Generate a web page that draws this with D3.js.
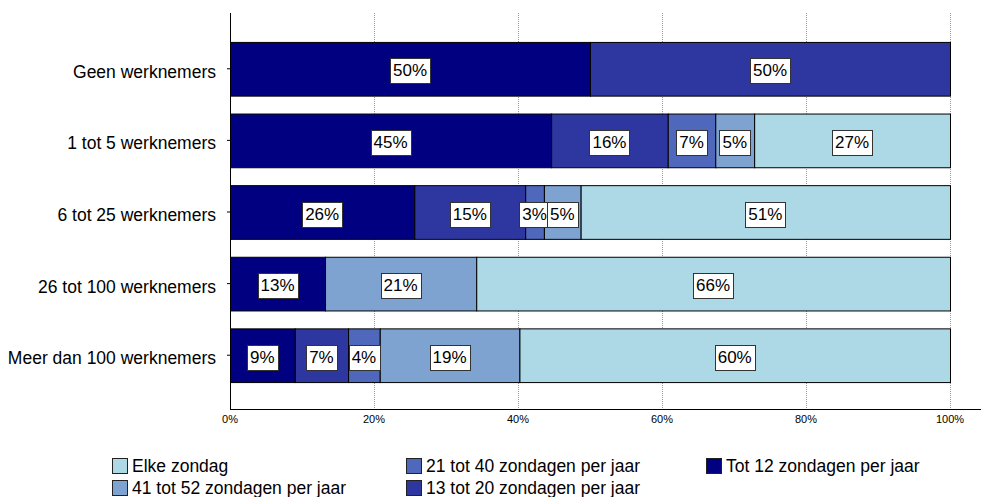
<!DOCTYPE html>
<html><head><meta charset="utf-8">
<script src="https://cdn.jsdelivr.net/npm/d3@7"></script>
<style>body{margin:0;background:#fff;} text{font-family:"Liberation Sans",Arial,sans-serif;}</style>
</head><body>
<svg id="c" width="981" height="497"></svg>
<script>
const categories = ["Geen werknemers","1 tot 5 werknemers","6 tot 25 werknemers","26 tot 100 werknemers","Meer dan 100 werknemers"];
const seriesNames = ["Tot 12 zondagen per jaar","13 tot 20 zondagen per jaar","21 tot 40 zondagen per jaar","41 tot 52 zondagen per jaar","Elke zondag"];
const tot12   = [50, 44.6, 25.6, 13.2, 9.0];
const t13_20  = [50, 16.2, 15.4, 0, 7.4];
const t21_40  = [0, 6.6, 2.6, 0, 4.4];
const t41_52  = [0, 5.4, 5.1, 21.0, 19.4];
const elke    = [0, 27.2, 51.3, 65.8, 59.8];
const xTicks = [0, 20, 40, 60, 80, 100];
const colors = ["#000080","#2E37A0","#5068BC","#7FA3D1","#ADD8E6"];
const legendOrder = ["Elke zondag","21 tot 40 zondagen per jaar","Tot 12 zondagen per jaar","41 tot 52 zondagen per jaar","13 tot 20 zondagen per jaar"];

const values = [tot12, t13_20, t21_40, t41_52, elke];
const table = categories.map((c, i) => {
  const o = {cat: c};
  seriesNames.forEach((s, j) => o[s] = values[j][i]);
  return o;
});
const stack = d3.stack().keys(seriesNames)(table);
const color = d3.scaleOrdinal().domain(seriesNames).range(colors);

const svg = d3.select("#c");
const x = d3.scaleLinear().domain([0, 100]).range([230, 950]);
const y = d3.scaleBand().domain(categories).range([14, 410]).paddingInner(0.25).paddingOuter(0.39);

// gridlines
svg.append("g").selectAll("line").data(xTicks.filter(t => t > 0)).join("line")
  .attr("x1", d => x(d)+0.5).attr("x2", d => x(d)+0.5).attr("y1", 13).attr("y2", 409)
  .attr("stroke", "#999").attr("stroke-dasharray", "1,1");

// bars
const g = svg.append("g");
stack.forEach(layer => {
  g.append("g").selectAll("rect").data(layer.filter(d => d[1] - d[0] > 0)).join("rect")
    .attr("x", d => x(d[0]) + 0.5).attr("y", d => y(d.data.cat) + 0.5)
    .attr("width", d => x(d[1]) - x(d[0])).attr("height", y.bandwidth())
    .attr("fill", color(layer.key)).attr("stroke", "#000").attr("stroke-width", 1);
});

// labels
stack.forEach(layer => {
  layer.filter(d => d[1] - d[0] > 0).forEach(d => {
    const cx = x((d[0] + d[1]) / 2), cy = y(d.data.cat) + y.bandwidth() / 2 + 2;
    const lg = svg.append("g");
    const t = lg.append("text").attr("x", cx).attr("y", cy).attr("text-anchor", "middle")
      .attr("dominant-baseline", "central").attr("font-size", 17).attr("fill", "#000")
      .text(Math.round(d[1] - d[0]) + "%");
    const bb = t.node().getBBox();
    lg.insert("rect", "text").attr("x", Math.round(bb.x - 3) + 0.5).attr("y", Math.round(cy - 12.5) + 0.5)
      .attr("width", Math.round(bb.width + 6)).attr("height", 25)
      .attr("fill", "#fff").attr("stroke", "#333").attr("stroke-width", 1);
  });
});

// axes
svg.append("line").attr("x1", 230.5).attr("x2", 230.5).attr("y1", 13).attr("y2", 409.5).attr("stroke", "#000");
svg.append("line").attr("x1", 230).attr("x2", 981).attr("y1", 409.5).attr("y2", 409.5).attr("stroke", "#000");
svg.append("g").selectAll("line").data(categories).join("line")
  .attr("x1", 227).attr("x2", 230).attr("y1", d => y(d) + y.bandwidth()/2).attr("y2", d => y(d) + y.bandwidth()/2)
  .attr("stroke", "#000");
svg.append("g").selectAll("text").data(xTicks).join("text")
  .attr("x", d => x(d)).attr("y", 423).attr("text-anchor", "middle").attr("font-size", 11)
  .text(d => d + "%");
svg.append("g").selectAll("text").data(categories).join("text")
  .attr("x", 216).attr("y", d => y(d) + y.bandwidth()/2 + 3).attr("text-anchor", "end")
  .attr("dominant-baseline", "central").attr("font-size", 17.5).text(d => d);

// legend
const legX = [112, 406, 706], legY = [458, 480];
legendOrder.forEach((name, i) => {
  const col = i < 3 ? i : i - 3, row = i < 3 ? 0 : 1;
  const lx = legX[col], ly = legY[row];
  svg.append("rect").attr("x", lx + 0.5).attr("y", ly + 0.5).attr("width", 15).attr("height", 15)
    .attr("fill", color(name)).attr("stroke", "#222");
  svg.append("text").attr("x", lx + 20).attr("y", ly + 8).attr("dominant-baseline", "central")
    .attr("font-size", 17.5).text(name);
});
</script>
</body></html>
